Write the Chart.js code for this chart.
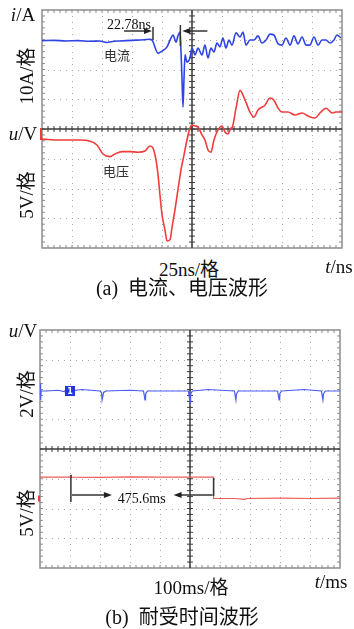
<!DOCTYPE html>
<html>
<head>
<meta charset="utf-8">
<script src="https://cdn.jsdelivr.net/npm/chart.js@4.4.0/dist/chart.umd.min.js"></script>
<style>
  body { margin: 0; background: #fff; }
  #page { position: relative; width: 354px; height: 629px; overflow: hidden;
          font-family: "Liberation Serif", "Noto Sans CJK SC", serif; color: #111; }
  canvas { position: absolute; }
  .lbl { position: absolute; white-space: nowrap; line-height: 1; font-size: 19px;
         transform: translate(-50%, -50%); }
  .cap { font-size: 20px; }
  .rot { transform: translate(-50%, -50%) rotate(-90deg); }
  .note { position: absolute; white-space: nowrap; line-height: 1; font-size: 13px; color: #333;
          font-family: "Noto Sans CJK SC", sans-serif; transform: translate(-50%, -50%); }
</style>
</head>
<body>
<div id="page">
  <canvas id="chartA" width="324" height="258" style="left:30px;top:0px"></canvas>
  <canvas id="chartB" width="324" height="258" style="left:28px;top:320px"></canvas>

  <div class="lbl" style="left:23px;top:14px"><i>i</i>/A</div>
  <div class="lbl rot" style="left:26px;top:76px">10A/格</div>
  <div class="lbl" style="left:23px;top:133px"><i>u</i>/V</div>
  <div class="lbl rot" style="left:26px;top:195px">5V/格</div>
  <div class="lbl" style="left:189px;top:269px">25ns/格</div>
  <div class="lbl" style="left:339px;top:266px"><i>t</i>/ns</div>
  <div class="lbl cap" style="left:182px;top:288px">(a)&nbsp; 电流、电压波形</div>
  <div class="note" style="left:117px;top:54px">电流</div>
  <div class="note" style="left:116px;top:170px">电压</div>

  <div class="lbl" style="left:23px;top:330px"><i>u</i>/V</div>
  <div class="lbl rot" style="left:26px;top:394px">2V/格</div>
  <div class="lbl rot" style="left:26px;top:513px">5V/格</div>
  <div class="lbl" style="left:191px;top:587px">100ms/格</div>
  <div class="lbl" style="left:331px;top:581px"><i>t</i>/ms</div>
  <div class="lbl cap" style="left:182px;top:617px">(b)&nbsp; 耐受时间波形</div>
</div>
<script>
// (a) current trace, ns / A
const currentT = [0, 10, 20, 30, 40, 48, 54, 60, 65, 75, 85, 90, 91.7, 96.7, 100, 104.2, 106.7, 109.2,
  111.7, 113.3, 115, 115.8, 116.7, 117.5, 118.3, 119.2, 120.8, 123.3, 125, 127.5, 130, 133.3, 135.8,
  138.3, 140.8, 143.3, 145.8, 148.3, 150.8, 153.3, 155.8, 158.3, 161.7, 165, 167.5, 170, 173.3, 176.7,
  180, 183.3, 186.7, 190, 193.3, 196.7, 200, 203.3, 206.7, 210, 213.3, 216.7, 220, 223.3, 226.7, 230,
  233.3, 236.7, 240, 243.3, 245.8, 249.2];
const currentA = [-0.3, -0.2, -0.4, -0.3, -0.5, -0.4, -0.9, -0.5, -0.4, -0.2, 0, 0.15, -0.1, -4.5, -3.8,
  -2.4, -0.1, 1.6, -0.8, 1.3, 2.6, -3.5, -13.5, -22.6, -13.5, -5.1, -7.5, -6.1, -2.8, -5.1, -2.8, -5.1,
  -1.8, -6.1, -2.8, -4.1, -1.1, -2.4, 0.6, -2.8, -0.1, -1.8, 2.3, 0.9, 2.6, -1.8, -0.1, -0.1, 1.3, -1.1,
  -0.1, 1.9, 1.6, -1.4, -1.8, 0.6, -1.8, 1.3, -1.4, 0.9, -1.8, -1.8, 0.9, -1.8, -0.1, -0.1, -1.1, -0.1,
  1.6, 0.6];

// (a) voltage trace, ns / V
const voltageT = [0, 15, 31.7, 40, 45.8, 50.8, 56.7, 60.8, 66.7, 73.3, 80, 85.8, 90, 92.5, 95, 96.7, 98.3,
  100, 102.5, 104.2, 106.7, 108.3, 110.8, 113.3, 115.8, 118.3, 120.8, 123.3, 125, 127.5, 130, 133.3,
  135.8, 138.3, 140.8, 143.3, 146.7, 150, 152.5, 155, 157.5, 158.3, 161.7, 165, 169.2, 173.3, 176.7,
  180, 185.8, 190, 193.3, 196.7, 200, 205, 210.8, 216.7, 221.7, 227.5, 231.7, 236.7, 241.7, 245, 250];
const voltageV = [-1.7, -1.85, -1.85, -2.05, -2.7, -4.2, -4.65, -4.2, -3.8, -3.8, -3.9, -3.7, -2.85, -3.2,
  -5.2, -7.7, -11.1, -14.4, -17, -18.8, -18.6, -16.6, -13.6, -10.2, -6.9, -4.4, -1.85, 0.15, 0.65, 0.5,
  0.35, -1, -1.85, -3.5, -3.9, -1.85, -0.15, 0.5, -0.5, -0.85, 0.15, 0.2, 3.5, 6.5, 4.85, 2.85, 2, 3.2,
  4, 5.2, 4.85, 3.5, 2.85, 2.85, 2.35, 2.7, 2.2, 1.85, 2.7, 3.5, 2.7, 2.85, 2.85];

// (b) channel 1, ms / V
const ch1T = [0, 2, 4, 20, 60, 95, 100, 140, 200, 205, 207, 212, 220, 300, 345, 350, 352, 358, 400, 495,
  500, 502, 508, 560, 648, 653, 655, 661, 700, 792, 797, 799, 805, 880, 938, 943, 945, 951, 1000];
const ch1U = [0.5, -0.6, 0, 0, 0.05, -0.1, 0, 0.1, 0, -0.1, -0.6, -0.1, 0, 0.05, 0, -0.6, -0.2, 0, 0, 0,
  -0.8, -0.2, 0, 0.1, 0, -0.6, -0.2, 0, 0, 0, -0.6, -0.2, 0, 0.1, 0, -0.6, -0.2, 0, 0];

// (b) channel 2, ms / V
const ch2T = [0, 40, 103, 103.5, 104.5, 200, 300, 400, 500, 578.6, 578.6, 650, 683, 690, 800, 900, 1000];
const ch2U = [3.6, 3.6, 3.6, 4.0, 3.6, 3.55, 3.65, 3.6, 3.6, 3.6, 0, 0, -0.15, 0, 0.05, 0, 0.05];

// annotation times
const riseMarks = [92.5, 115.3];   // 22.78 ns
const holdMarks = [103, 578.6];    // 475.6 ms

const BLUE = '#2f44e6';
const RED = '#f03c3c';

function pts(xs, ys) {
  return xs.map((x, i) => ({ x: x, y: ys[i] }));
}

// oscilloscope graticule: 10 x 8 divisions
const scopeGrid = {
  id: 'scopeGrid',
  beforeDatasetsDraw(chart) {
    const { ctx, chartArea: a } = chart;
    const nx = 10, ny = 8;
    const dx = (a.right - a.left) / nx;
    const dy = (a.bottom - a.top) / ny;
    const cx = a.left + dx * nx / 2;
    const cy = a.top + dy * ny / 2;
    ctx.save();
    ctx.fillStyle = '#a8a8a8';
    for (let i = 1; i < nx; i++) {
      if (i === nx / 2) continue;
      const x = Math.round(a.left + i * dx);
      for (let k = 1; k < ny * 5; k++) ctx.fillRect(x, Math.round(a.top + k * dy / 5), 1, 1);
    }
    for (let j = 1; j < ny; j++) {
      if (j === ny / 2) continue;
      const y = Math.round(a.top + j * dy);
      for (let k = 1; k < nx * 5; k++) ctx.fillRect(Math.round(a.left + k * dx / 5), y, 1, 1);
    }
    // frame + minor ticks
    ctx.strokeStyle = '#8c8c8c';
    ctx.lineWidth = 1.5;
    ctx.strokeRect(a.left, a.top, a.right - a.left, a.bottom - a.top);
    ctx.lineWidth = 1;
    ctx.beginPath();
    for (let k = 1; k < nx * 5; k++) {
      const x = a.left + k * dx / 5;
      ctx.moveTo(x, a.top); ctx.lineTo(x, a.top + 3);
      ctx.moveTo(x, a.bottom); ctx.lineTo(x, a.bottom - 3);
    }
    for (let k = 1; k < ny * 5; k++) {
      const y = a.top + k * dy / 5;
      ctx.moveTo(a.left, y); ctx.lineTo(a.left + 3, y);
      ctx.moveTo(a.right, y); ctx.lineTo(a.right - 3, y);
    }
    ctx.stroke();
    // centre cross
    ctx.strokeStyle = '#3a3a3a';
    ctx.lineWidth = 1.5;
    ctx.beginPath();
    ctx.moveTo(cx, a.top); ctx.lineTo(cx, a.bottom);
    ctx.moveTo(a.left, cy); ctx.lineTo(a.right, cy);
    ctx.stroke();
    ctx.lineWidth = 1;
    ctx.beginPath();
    for (let k = 1; k < nx * 5; k++) {
      const x = a.left + k * dx / 5;
      ctx.moveTo(x, cy - 3); ctx.lineTo(x, cy + 3);
    }
    for (let k = 1; k < ny * 5; k++) {
      const y = a.top + k * dy / 5;
      ctx.moveTo(cx - 3, y); ctx.lineTo(cx + 3, y);
    }
    ctx.stroke();
    ctx.restore();
  }
};

function arrow(ctx, x1, y, x2) {
  const dir = x2 > x1 ? 1 : -1;
  ctx.beginPath();
  ctx.moveTo(x1, y);
  ctx.lineTo(x2 - dir * 6, y);
  ctx.stroke();
  ctx.beginPath();
  ctx.moveTo(x2, y);
  ctx.lineTo(x2 - dir * 8, y - 3);
  ctx.lineTo(x2 - dir * 8, y + 3);
  ctx.closePath();
  ctx.fill();
}

const notesA = {
  id: 'notesA',
  afterDatasetsDraw(chart) {
    const { ctx, chartArea: a, scales } = chart;
    const x0 = scales.x.getPixelForValue(riseMarks[0]);
    const x1 = scales.x.getPixelForValue(riseMarks[1]);
    const y = a.top + 21;
    ctx.save();
    ctx.strokeStyle = '#333';
    ctx.fillStyle = '#222';
    ctx.lineWidth = 1.5;
    ctx.beginPath();
    ctx.moveTo(x0, a.top + 17); ctx.lineTo(x0, a.top + 30);
    ctx.moveTo(x1, a.top + 15); ctx.lineTo(x1, a.top + 36);
    ctx.stroke();
    arrow(ctx, x0 - 29, y, x0 - 1);
    arrow(ctx, x1 + 27, y, x1 + 2);
    ctx.font = '14px "Liberation Serif"';
    ctx.textAlign = 'right';
    ctx.textBaseline = 'alphabetic';
    ctx.fillStyle = '#111';
    ctx.fillText('22.78ns', x0 - 2, a.top + 19);
    // channel marker
    ctx.fillStyle = RED;
    ctx.fillRect(a.left - 2, a.top + 118, 2, 12);
    ctx.restore();
  }
};

const notesB = {
  id: 'notesB',
  afterDatasetsDraw(chart) {
    const { ctx, chartArea: a, scales } = chart;
    const x0 = scales.x.getPixelForValue(holdMarks[0]);
    const x1 = scales.x.getPixelForValue(holdMarks[1]);
    const y = a.top + 165;
    ctx.save();
    ctx.strokeStyle = '#333';
    ctx.fillStyle = '#222';
    ctx.lineWidth = 1.5;
    ctx.beginPath();
    ctx.moveTo(x0, a.top + 145); ctx.lineTo(x0, a.top + 172);
    ctx.moveTo(x1, a.top + 148); ctx.lineTo(x1, a.top + 166);
    ctx.stroke();
    arrow(ctx, x0 + 1, y, x0 + 41);
    arrow(ctx, x1 - 1, y, x1 - 40);
    ctx.font = '14px "Liberation Serif"';
    ctx.textAlign = 'center';
    ctx.textBaseline = 'middle';
    ctx.fillStyle = '#111';
    ctx.fillText('475.6ms', (x0 + x1) / 2 - 0.5, y + 4);
    // channel 1 ground marker
    const gy = scales.y1.getPixelForValue(0);
    const mx = scales.x.getPixelForValue(100);
    ctx.fillStyle = '#2236e0';
    ctx.fillRect(mx - 5, gy - 5, 10, 10);
    ctx.fillStyle = '#fff';
    ctx.font = 'bold 8px "DejaVu Sans"';
    ctx.fillText('1', mx, gy + 0.5);
    ctx.fillStyle = RED;
    ctx.fillRect(a.left - 2, scales.y2.getPixelForValue(0) - 3, 2, 6);
    ctx.restore();
  }
};

function scopeOptions(yScales, xMax) {
  const scales = { x: { type: 'linear', min: 0, max: xMax, display: false } };
  Object.keys(yScales).forEach(k => {
    scales[k] = { type: 'linear', min: yScales[k][0], max: yScales[k][1], display: false };
  });
  return {
    responsive: false,
    animation: false,
    layout: { padding: { left: 12, right: 12, top: 10, bottom: 10 } },
    plugins: { legend: { display: false }, tooltip: { enabled: false } },
    elements: { point: { radius: 0 }, line: { tension: 0 } },
    scales: scales
  };
}

new Chart(document.getElementById('chartA'), {
  type: 'line',
  data: {
    datasets: [
      { label: '电流', data: pts(currentT, currentA), yAxisID: 'yI', borderColor: BLUE, borderWidth: 1.6,
        cubicInterpolationMode: 'monotone' },
      { label: '电压', data: pts(voltageT, voltageV), yAxisID: 'yU', borderColor: RED, borderWidth: 1.6,
        cubicInterpolationMode: 'monotone' }
    ]
  },
  options: scopeOptions({ yI: [-70, 10], yU: [-20, 20] }, 250),
  plugins: [scopeGrid, notesA]
});

new Chart(document.getElementById('chartB'), {
  type: 'line',
  data: {
    datasets: [
      { label: 'CH1', data: pts(ch1T, ch1U), yAxisID: 'y1', borderColor: '#4a5cf2', borderWidth: 1.2 },
      { label: 'CH2', data: pts(ch2T, ch2U), yAxisID: 'y2', borderColor: '#f25a5a', borderWidth: 1.2 }
    ]
  },
  options: scopeOptions({ y1: [-11.9, 4.1], y2: [-11.68, 28.32] }, 1000),
  plugins: [scopeGrid, notesB]
});
</script>
</body>
</html>
